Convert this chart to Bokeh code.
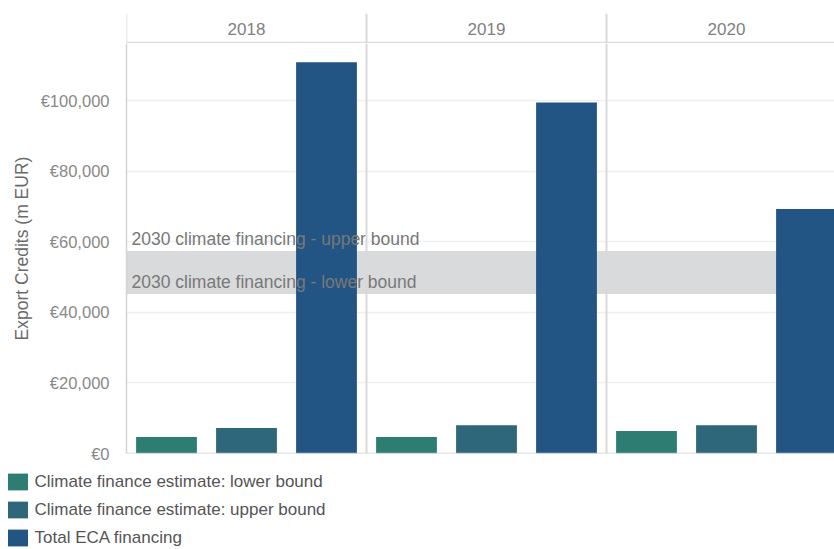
from bokeh.plotting import figure
from bokeh.models import (ColumnDataSource, Range1d, FixedTicker, Span, BoxAnnotation,
                          Legend, LegendItem, Label)
from bokeh.layouts import column
from bokeh.core.properties import value
from bokeh.embed import file_html
from bokeh.resources import INLINE

# ---------------- data ----------------
years = ["2018", "2019", "2020"]
series = ["Climate finance estimate: lower bound",
          "Climate finance estimate: upper bound",
          "Total ECA financing"]
lower_bound = [4700, 4700, 6400]
upper_bound = [7200, 8000, 8000]
total_eca = [110900, 99500, 69300]
band_lower = 45200
band_upper = 57400
band_labels = ["2030 climate financing - upper bound", "2030 climate financing - lower bound"]
tick_values = [0, 20000, 40000, 60000, 80000, 100000]
tick_labels = ["€0", "€20,000", "€40,000", "€60,000", "€80,000", "€100,000"]

values = [lower_bound, upper_bound, total_eca]
colors = ["#2e7d72", "#2d6779", "#225583"]

FONT = "Liberation Sans"
W = 834
LEFT = 126
n_s = len(series)
x_range = Range1d(0, (W - LEFT) / 80)

# ---------------- header figure ----------------
h = figure(width=W, height=43, x_range=x_range, y_range=Range1d(-1, 29),
           x_axis_type=None, y_axis_type=None, output_backend="svg",
           toolbar_location=None, min_border_left=LEFT, min_border_right=0,
           min_border_top=13, min_border_bottom=0)
h.outline_line_color = None
h.grid.visible = False
hsrc = ColumnDataSource(dict(x=[i * n_s + n_s / 2 for i in range(len(years))],
                             y=[14] * len(years), t=years))
h.text(x="x", y="y", text="t", source=hsrc, text_align="center", text_baseline="middle",
       text_font=value(FONT), text_font_size="17px", text_color="#7f7f7f")
h.add_layout(Span(location=0, dimension="width", line_color="#dcdcdc", line_width=1.5))
for i in range(len(years)):
    h.add_layout(Span(location=i * n_s, dimension="height", line_color="#d9d9d9",
                      line_width=2 if i else 1.5))

# ---------------- main figure ----------------
p = figure(width=W, height=421, x_range=x_range, y_range=Range1d(0, 116200),
           x_axis_type=None, output_backend="svg", toolbar_location=None,
           min_border_left=LEFT, min_border_right=0, min_border_top=0,
           min_border_bottom=11)
p.outline_line_color = None
for g in p.xgrid:
    g.visible = False

band = BoxAnnotation(bottom=band_lower, top=band_upper, fill_color="#d9dadc",
                     fill_alpha=1.0, line_color=None, level="underlay")
p.add_layout(band)

for j, (name, vals, c) in enumerate(zip(series, values, colors)):
    src = ColumnDataSource(dict(x=[i * n_s + j + 0.5 for i in range(len(years))],
                                top=vals, year=years))
    p.vbar(x="x", top="top", width=0.76, source=src, fill_color=c, line_color=None)

for yv, txt in zip([band_upper, band_lower], band_labels):
    p.add_layout(Label(x=0, y=yv, text=txt, x_offset=5, y_offset=12,
                       text_align="left", text_baseline="alphabetic",
                       text_font=FONT, text_font_size="17.5px",
                       text_color="#787878"))

for i in range(1, len(years)):
    p.add_layout(Span(location=i * n_s, dimension="height", line_color="#d9d9d9",
                      line_width=2))
p.add_layout(Span(location=0, dimension="width", line_color="#cfcfcf", line_width=1.5))

ax = p.yaxis[0]
ax.ticker = FixedTicker(ticks=tick_values)
ax.major_label_overrides = {v: l for v, l in zip(tick_values, tick_labels)}
ax.major_tick_line_color = None
ax.minor_tick_line_color = None
ax.axis_line_color = "#d4d4d4"
ax.axis_line_width = 1.5
ax.major_label_text_font = FONT
ax.major_label_text_font_size = "16.5px"
ax.major_label_text_color = "#898989"
ax.major_label_standoff = 11
ax.axis_label = "Export Credits (m EUR)"
ax.axis_label_text_font = FONT
ax.axis_label_text_font_size = "17.5px"
ax.axis_label_text_font_style = "normal"
ax.axis_label_text_color = "#6a6a6a"
ax.axis_label_standoff = 6
p.ygrid.ticker = FixedTicker(ticks=tick_values)
p.ygrid.grid_line_color = "#f0f0f0"
p.ygrid.grid_line_width = 1.5

# ---------------- legend figure (separate root, so its frame starts at x=0) -------
lg = figure(width=W, height=85, x_range=Range1d(0, 1), y_range=Range1d(0, 1),
            x_axis_type=None, y_axis_type=None, output_backend="svg",
            toolbar_location=None, min_border_left=0, min_border_right=0,
            min_border_top=0, min_border_bottom=0)
lg.outline_line_color = None
lg.grid.visible = False
items = []
for j, (name, vals, c) in enumerate(zip(series, values, colors)):
    src = ColumnDataSource(dict(x=[i * n_s + j + 0.5 for i in range(len(years))],
                                top=vals))
    r = lg.vbar(x="x", top="top", width=0.76, source=src, fill_color=c,
                line_color=None, visible=False)
    items.append(LegendItem(label=name, renderers=[r]))
legend = Legend(items=items, location=(4.5, 1), orientation="vertical",
                glyph_width=25, glyph_height=21, label_standoff=5,
                label_text_font=FONT, label_text_font_size="17px",
                label_text_color="#555555", label_height=21, spacing=7,
                padding=0, margin=0, border_line_color=None,
                background_fill_alpha=0, inactive_fill_alpha=0)
lg.add_layout(legend, "center")

layout = column(h, p)
open("out.html", "w").write(file_html([layout, lg], INLINE))
